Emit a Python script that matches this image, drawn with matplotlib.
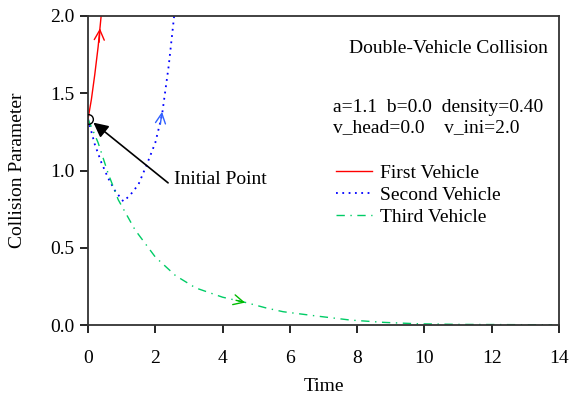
import matplotlib
matplotlib.use('Agg')
from matplotlib import pyplot as plt

plt.rcParams['font.family'] = ['Liberation Serif', 'DejaVu Serif']
plt.rcParams['font.size'] = 14

# trajectories of the three vehicles (time, collision parameter)
t_first = [0, 0.1, 0.2, 0.3, 0.39]
y_first = [1.333, 1.46, 1.62, 1.80, 2.0]

t_second = [0, 0.2, 0.4, 0.6, 0.8, 1.05, 1.25, 1.5, 1.75, 2.0, 2.2, 2.4, 2.56]
y_second = [1.333, 1.17, 1.05, 0.95, 0.87, 0.80, 0.84, 0.91, 1.04, 1.18, 1.36, 1.68, 2.0]

t_third = [0, 0.3, 0.6, 0.9, 1.4, 2.0, 2.6, 3.2, 4.0, 4.7, 5.3, 5.8, 6.8, 7.8,
           8.8, 9.8, 11, 12, 13, 13.8]
y_third = [1.333, 1.18, 0.98, 0.81, 0.615, 0.44, 0.32, 0.24, 0.18, 0.145, 0.11,
           0.086, 0.058, 0.032, 0.017, 0.008, 0.004, 0.003, 0.002, 0.002]

init_point = (0, 1.333)
params_line1 = 'a=1.1  b=0.0  density=0.40'
params_line2 = 'v_head=0.0    v_ini=2.0'

fig = plt.figure(figsize=(5.69, 3.94), dpi=100)
ax = fig.add_axes([0.1547, 0.1751, 0.8277, 0.7843])

ax.plot(t_first, y_first, color='#ff0000', lw=1.0, label='First Vehicle')
ax.plot(t_second, y_second, color='#0000ff', lw=1.3, linestyle=(0, (1, 2.5)),
        label='Second Vehicle')
ax.plot(t_third, y_third, color='#00cc66', lw=1.0, linestyle=(0, (6, 4, 1, 4)),
        label='Third Vehicle')

# direction chevrons along each curve
def chevron(x0, y0, x1, y1, color):
    ax.annotate('', xy=(x1, y1), xytext=(x0, y0),
                arrowprops=dict(arrowstyle='->', color=color, lw=1.0,
                                mutation_scale=18, shrinkA=0, shrinkB=0))

chevron(0.33, 1.83, 0.355, 1.92, '#ff0000')
chevron(2.15, 1.30, 2.2, 1.38, '#3060ff')
chevron(4.4, 0.16, 4.67, 0.145, '#00bb00')

ax.plot(*init_point, marker='o', ms=7, mfc='none', mec='black', mew=1.0,
        zorder=5)
# pointer to the starting state
ax.annotate('', xy=(0.16, 1.31), xytext=(2.38, 0.92),
            arrowprops=dict(arrowstyle='-|>', color='black', lw=1.2,
                            mutation_scale=22, shrinkA=0, shrinkB=0))
ax.text(2.56, 0.945, 'Initial Point', va='center', ha='left')

ax.text(0.554, 0.896, 'Double-Vehicle Collision', transform=ax.transAxes,
        ha='left', va='center')
ax.text(0.520, 0.705, params_line1, transform=ax.transAxes, ha='left', va='center')
ax.text(0.520, 0.638, params_line2, transform=ax.transAxes, ha='left', va='center')

ax.legend(loc='upper left', bbox_to_anchor=(0.527, 0.52), frameon=False,
          handlelength=1.86, handletextpad=0.41, labelspacing=0.22,
          borderaxespad=0, borderpad=0)

ax.set_xlim(0, 14)
ax.set_ylim(0, 2.0)
ax.set_xticks(range(0, 15, 2))
ax.set_yticks([0.0, 0.5, 1.0, 1.5, 2.0])
ax.set_yticklabels(['0.0', '0.5', '1.0', '1.5', '2.0'])
ax.tick_params(direction='out', length=6, width=1.2, pad=4, colors='black',
               top=False, right=False)
ax.tick_params(axis='x', pad=12)
for s in ax.spines.values():
    s.set_linewidth(1.3)
    s.set_color('#333333')

ax.set_xlabel('Time', labelpad=8)
ax.set_ylabel('Collision Parameter', labelpad=17)

fig.savefig('out.png', dpi=100)
